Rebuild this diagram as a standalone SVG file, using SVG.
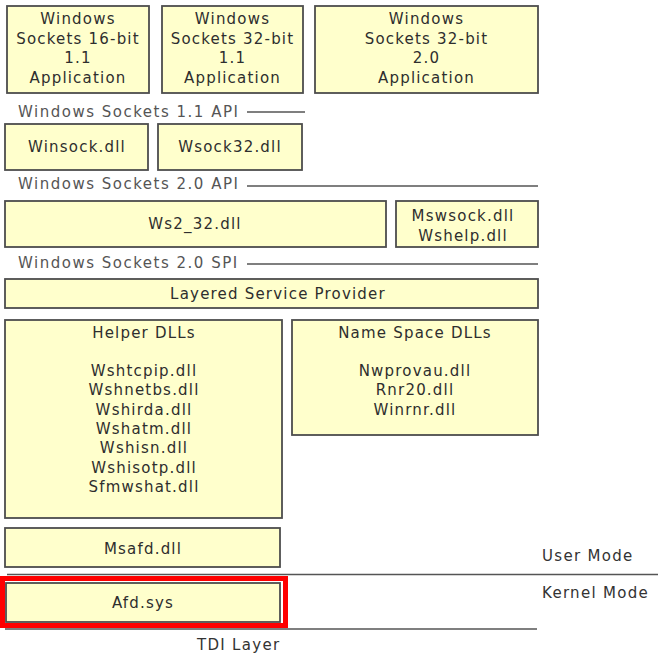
<svg xmlns="http://www.w3.org/2000/svg" width="665" height="667" viewBox="0 0 665 667">
<style>
  .box { fill: #FFFFCC; stroke: #4d4d4d; stroke-width: 1.8; }
  .t { font-family: "DejaVu Sans", Verdana, sans-serif; font-size: 15px; fill: #2e2e2e; text-anchor: middle; letter-spacing: 1.2px; }
  .lbl { font-family: "DejaVu Sans", Verdana, sans-serif; font-size: 15px; fill: #555555; letter-spacing: 1.5px; }
  .mode { font-family: "DejaVu Sans", Verdana, sans-serif; font-size: 15px; fill: #333333; letter-spacing: 1.3px; }
  .rule { stroke: #555555; stroke-width: 1.6; fill: none; }
</style>
<rect width="665" height="667" fill="#ffffff"/>

<g id="connectors">
  <line class="rule" x1="247" y1="112" x2="305" y2="112"/>
  <line class="rule" x1="247" y1="186" x2="538" y2="186"/>
  <line class="rule" x1="247" y1="264" x2="538" y2="264"/>
  <line class="rule" x1="7" y1="574.5" x2="658" y2="574.5" stroke-width="2"/>
  <line class="rule" x1="5" y1="629" x2="537" y2="629" stroke-width="2"/>
</g>

<g id="labels">
  <text class="lbl" x="18" y="116.5">Windows Sockets 1.1 API</text>
  <text class="lbl" x="18" y="189">Windows Sockets 2.0 API</text>
  <text class="lbl" x="18" y="267.5">Windows Sockets 2.0 SPI</text>
  <text class="mode" x="542" y="560.5">User Mode</text>
  <text class="mode" x="542" y="598">Kernel Mode</text>
  <text class="mode" x="197" y="650">TDI Layer</text>
</g>

<g id="app16">
  <rect class="box" x="7" y="6" width="142" height="87"/>
  <text class="t" x="78" y="24">Windows</text>
  <text class="t" x="78" y="43.5">Sockets 16-bit</text>
  <text class="t" x="78" y="63">1.1</text>
  <text class="t" x="78" y="82.5">Application</text>
</g>
<g id="app32">
  <rect class="box" x="162" y="6" width="141" height="87"/>
  <text class="t" x="232.5" y="24">Windows</text>
  <text class="t" x="232.5" y="43.5">Sockets 32-bit</text>
  <text class="t" x="232.5" y="63">1.1</text>
  <text class="t" x="232.5" y="82.5">Application</text>
</g>
<g id="app20">
  <rect class="box" x="315" y="6" width="223" height="87"/>
  <text class="t" x="426.5" y="24">Windows</text>
  <text class="t" x="426.5" y="43.5">Sockets 32-bit</text>
  <text class="t" x="426.5" y="63">2.0</text>
  <text class="t" x="426.5" y="82.5">Application</text>
</g>
<g id="winsock">
  <rect class="box" x="5" y="124" width="143" height="46"/>
  <text class="t" x="77" y="151.5">Winsock.dll</text>
</g>
<g id="wsock32">
  <rect class="box" x="158" y="124" width="144" height="46"/>
  <text class="t" x="230" y="151.5">Wsock32.dll</text>
</g>
<g id="ws2_32">
  <rect class="box" x="5" y="201" width="381" height="46"/>
  <text class="t" x="195" y="229">Ws2_32.dll</text>
</g>
<g id="mswsock">
  <rect class="box" x="396" y="201" width="142" height="46"/>
  <text class="t" x="463" y="221">Mswsock.dll</text>
  <text class="t" x="463" y="240.5">Wshelp.dll</text>
</g>
<g id="lsp">
  <rect class="box" x="5" y="279" width="533" height="29"/>
  <text class="t" x="278" y="299">Layered Service Provider</text>
</g>
<g id="helper">
  <rect class="box" x="5" y="320" width="277" height="198"/>
  <text class="t" x="144" y="337.5">Helper DLLs</text>
  <text class="t" x="144" y="375.5">Wshtcpip.dll</text>
  <text class="t" x="144" y="395">Wshnetbs.dll</text>
  <text class="t" x="144" y="414.5">Wshirda.dll</text>
  <text class="t" x="144" y="434">Wshatm.dll</text>
  <text class="t" x="144" y="453">Wshisn.dll</text>
  <text class="t" x="144" y="472.5">Wshisotp.dll</text>
  <text class="t" x="144" y="492">Sfmwshat.dll</text>
</g>
<g id="namespace">
  <rect class="box" x="292" y="320" width="246" height="115"/>
  <text class="t" x="415" y="337.5">Name Space DLLs</text>
  <text class="t" x="415" y="375.5">Nwprovau.dll</text>
  <text class="t" x="415" y="395">Rnr20.dll</text>
  <text class="t" x="415" y="414.5">Winrnr.dll</text>
</g>
<g id="msafd">
  <rect class="box" x="5" y="528" width="275" height="39"/>
  <text class="t" x="143" y="554">Msafd.dll</text>
</g>
<g id="afd">
  <rect class="box" x="6" y="583" width="274" height="39"/>
  <text class="t" x="143" y="608">Afd.sys</text>
</g>
<g id="highlight">
  <rect x="2.5" y="578.5" width="283" height="47" fill="none" stroke="#ff0000" stroke-width="5"/>
</g>
</svg>
